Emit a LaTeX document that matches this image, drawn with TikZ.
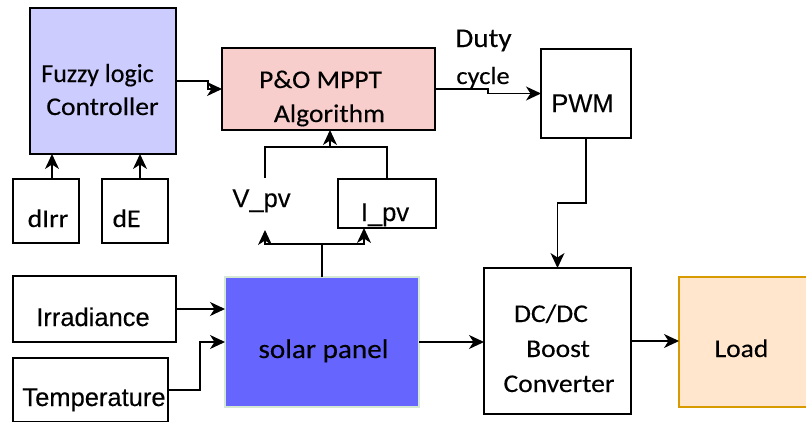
\documentclass[tikz,border=0pt]{standalone}
\usepackage{fontspec}
\setmainfont{Carlito}
\newfontfamily\calfont[FakeStretch=1.08,FakeBold=0.3]{Carlito}
\newfontfamily\calplain[FakeBold=0.3]{Carlito}
\newfontfamily\helvfont[FakeBold=0.3]{Liberation Sans}
\usetikzlibrary{arrows.meta}
\definecolor{fuzzyfill}{HTML}{CCCCFF}
\definecolor{pofill}{HTML}{F8CECC}
\definecolor{solarfill}{HTML}{6666FF}
\definecolor{solarline}{HTML}{D5E8D4}
\definecolor{loadfill}{HTML}{FFE6CC}
\definecolor{loadline}{HTML}{D79B00}
\begin{document}
\begin{tikzpicture}[x=1pt,y=-1pt,
  blk/.style={draw=black, line width=1.4pt, inner sep=0pt, outer sep=0pt},
  cal/.style={inner sep=0pt, anchor=base, font=\calfont\fontsize{25.5}{30}\selectfont},
  hel/.style={inner sep=0pt, anchor=base, font=\helvfont\fontsize{25.5}{30}\selectfont},
  wire/.style={line width=1.4pt, draw=black},
  arr/.style={wire, -{Stealth[length=15pt,width=14pt,inset=4.5pt]}}]
\useasboundingbox (0,0) rectangle (806,421);
% boxes
\node[blk, fill=fuzzyfill, minimum width=146pt, minimum height=146pt] (fuzzy) at (103,81) {};
\node[blk, fill=pofill, minimum width=213pt, minimum height=82pt] (pando) at (328.5,89) {};
\node[blk, minimum width=90pt, minimum height=89pt] (pwm) at (586,93.5) {};
\node[blk, minimum width=66pt, minimum height=64pt] (dirr) at (46,211) {};
\node[blk, minimum width=66pt, minimum height=64pt] (de) at (135,211) {};
\node[blk, minimum width=98pt, minimum height=49pt] (ipv) at (387,203.5) {};
\node[blk, minimum width=163pt, minimum height=66pt] (irr) at (94.5,309) {};
\node[blk, minimum width=155pt, minimum height=64pt] (temp) at (90.5,390) {};
\node[blk, draw=solarline, fill=solarfill, minimum width=194pt, minimum height=130pt] (solar) at (322,342) {};
\node[blk, minimum width=147pt, minimum height=146pt] (dcdc) at (557.5,341) {};
\node[blk, draw=loadline, fill=loadfill, minimum width=133pt, minimum height=130pt] (load) at (745.5,342) {};
% texts
\node[cal, font=\calplain\fontsize{26}{30}\selectfont] (fuzzyA) at (97.5,82) {Fuzzy logic};
\node[cal] (fuzzyB) at (102.5,115) {Controller};
\node[cal] (poA) at (320.5,88) {P\&O MPPT};
\node[cal] (poB) at (329.5,122) {Algorithm};
\node[cal, font=\calfont\fontsize{27}{30}\selectfont] (duty) at (483.5,47) {Duty};
\node[cal, font=\calfont\fontsize{24.5}{28}\selectfont] (cycle) at (483,84) {cycle};
\node[hel] (pwmT) at (582.5,112) {PWM};
\node[cal] (dirrT) at (48,227) {dIrr};
\node[cal] (deT) at (126.5,227) {dE};
\node[hel] (vpv) at (261.5,207) {V\_pv};
\node[hel] (ipvT) at (385,221) {I\_pv};
\node[hel] (irrT) at (93,326) {Irradiance};
\node[hel] (tempT) at (94,406) {Temperature};
\node[cal, font=\calfont\fontsize{27}{30}\selectfont] (solarT) at (323.5,358) {solar panel};
\node[cal] (dcA) at (551,322) {DC/DC};
\node[cal] (dcB) at (558,357) {Boost};
\node[cal] (dcC) at (559,392) {Converter};
\node[cal] (loadT) at (741.5,357) {Load};
% connectors
\draw[arr] (fuzzy.east) -- ++(32,0) |- (pando.west);
\draw[arr] (pando.east) -- ++(53,0) |- (pwm.west);
\draw[arr] (pwm.south) -- ++(0,65) -| (dcdc.north);
\draw[arr] ([xshift=6pt]dirr.north) -- ([xshift=6pt]dirr.north |- fuzzy.south);
\draw[arr] ([xshift=5pt]de.north) -- ([xshift=5pt]de.north |- fuzzy.south);
\draw[arr] (irr.east) -- (irr.east -| solar.west);
\draw[arr] (temp.east) -- ++(32,0) |- (solar.west);
\draw[arr] (solar.east) -- (solar.east -| dcdc.west);
\draw[arr] (dcdc.east) -- (dcdc.east -| load.west);
\coordinate (split) at (322,244);
\coordinate (vin) at (265,230);
\coordinate (vout) at (265,178);
\coordinate (join) at (330,147);
\draw[wire] (solar.north) -- (split);
\draw[arr] (split) -| (vin);
\draw[arr] (split) -| ([xshift=-23pt]ipv.south);
\draw[wire] (vout) |- (join) -| (ipv.north);
\draw[arr] (join) -- (join |- pando.south);
\end{tikzpicture}
\end{document}
